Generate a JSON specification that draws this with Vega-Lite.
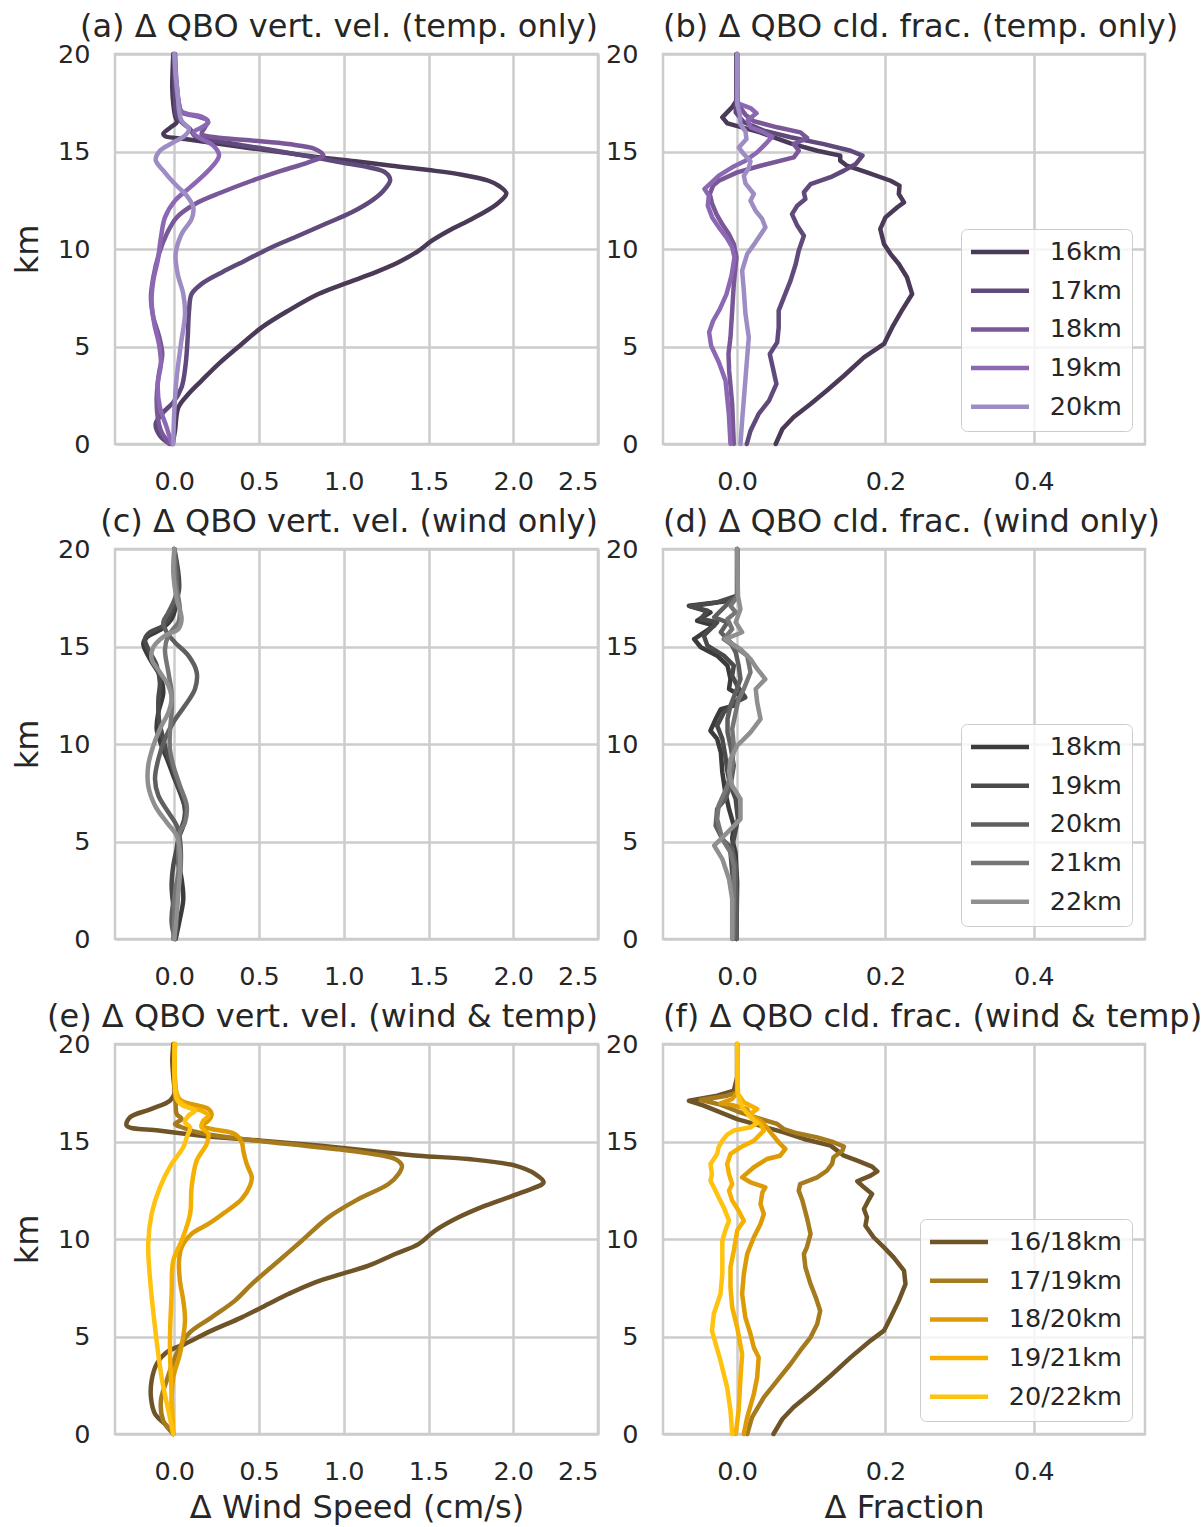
{
"$schema":"https://vega.github.io/schema/vega-lite/v6.json",
"padding":{"left":10,"top":9,"right":5,"bottom":2},
"background":"white",
"config":{
 "font":"DejaVu Sans",
 "view":{"stroke":"#cccccc","strokeWidth":2.5},
 "axis":{"grid":true,"gridColor":"#cccccc","gridWidth":2.5,"domain":false,"ticks":false,"labelFontSize":25.5,"labelColor":"#262626","labelPadding":25,"titleFontSize":32,"titleFontWeight":"normal","titleColor":"#262626","labelFont":"DejaVu Sans","titleFont":"DejaVu Sans"},
 "axisX":{"titlePadding":8},
 "axisY":{"titlePadding":13},
 "title":{"fontSize":32,"fontWeight":"normal","color":"#262626","offset":-1.5,"font":"DejaVu Sans","frame":"group"},
 "legend":{"orient":"bottom-right","offset":13,"labelFontSize":25.5,"labelColor":"#262626","labelFont":"DejaVu Sans","symbolType":"M-1.238,0H4.286","symbolSize":441,"symbolStrokeWidth":4.5,"symbolOffset":0,"padding":10,"rowPadding":11.7,"labelOffset":52.7,"strokeColor":"#cccccc","fillColor":"rgba(255,255,255,0.8)","cornerRadius":6}
},
"datasets":{
"a":[
{"k":"16km","x":-0.01,"y":0},{"k":"16km","x":0.004,"y":0.68},{"k":"16km","x":0.024,"y":1.88},{"k":"16km","x":0.083,"y":2.56},{"k":"16km","x":0.161,"y":3.25},{"k":"16km","x":0.26,"y":4.1},{"k":"16km","x":0.398,"y":5.13},{"k":"16km","x":0.516,"y":5.98},{"k":"16km","x":0.673,"y":6.84},{"k":"16km","x":0.85,"y":7.69},{"k":"16km","x":1.028,"y":8.29},{"k":"16km","x":1.185,"y":8.8},{"k":"16km","x":1.323,"y":9.32},{"k":"16km","x":1.441,"y":9.91},{"k":"16km","x":1.52,"y":10.43},{"k":"16km","x":1.638,"y":11.03},{"k":"16km","x":1.756,"y":11.54},{"k":"16km","x":1.904,"y":12.31},{"k":"16km","x":1.959,"y":12.85},{"k":"16km","x":1.913,"y":13.25},{"k":"16km","x":1.854,"y":13.5},{"k":"16km","x":1.697,"y":13.81},{"k":"16km","x":1.5,"y":14.05},{"k":"16km","x":1.283,"y":14.27},{"k":"16km","x":1.067,"y":14.5},{"k":"16km","x":0.85,"y":14.7},{"k":"16km","x":0.634,"y":14.96},{"k":"16km","x":0.417,"y":15.21},{"k":"16km","x":0.22,"y":15.45},{"k":"16km","x":0.063,"y":15.64},{"k":"16km","x":-0.055,"y":15.79},{"k":"16km","x":-0.065,"y":15.9},{"k":"16km","x":-0.026,"y":16.21},{"k":"16km","x":0.014,"y":16.5},{"k":"16km","x":0.004,"y":16.84},{"k":"16km","x":-0.006,"y":17.44},{"k":"16km","x":-0.012,"y":18.29},{"k":"16km","x":-0.01,"y":19.15},{"k":"16km","x":-0.006,"y":20},
{"k":"17km","x":-0.026,"y":0},{"k":"17km","x":-0.085,"y":0.43},{"k":"17km","x":-0.11,"y":1.03},{"k":"17km","x":-0.065,"y":1.62},{"k":"17km","x":-0.006,"y":2.14},{"k":"17km","x":0.043,"y":2.91},{"k":"17km","x":0.067,"y":4.1},{"k":"17km","x":0.079,"y":5.47},{"k":"17km","x":0.087,"y":6.84},{"k":"17km","x":0.102,"y":7.69},{"k":"17km","x":0.161,"y":8.21},{"k":"17km","x":0.28,"y":8.8},{"k":"17km","x":0.417,"y":9.4},{"k":"17km","x":0.575,"y":10.09},{"k":"17km","x":0.732,"y":10.68},{"k":"17km","x":0.89,"y":11.28},{"k":"17km","x":1.047,"y":11.88},{"k":"17km","x":1.165,"y":12.48},{"k":"17km","x":1.234,"y":12.99},{"k":"17km","x":1.274,"y":13.54},{"k":"17km","x":1.244,"y":13.93},{"k":"17km","x":1.146,"y":14.19},{"k":"17km","x":0.988,"y":14.44},{"k":"17km","x":0.85,"y":14.66},{"k":"17km","x":0.634,"y":14.99},{"k":"17km","x":0.417,"y":15.3},{"k":"17km","x":0.22,"y":15.59},{"k":"17km","x":0.122,"y":15.79},{"k":"17km","x":0.093,"y":16.15},{"k":"17km","x":0.043,"y":16.5},{"k":"17km","x":0.014,"y":16.84},{"k":"17km","x":0.004,"y":17.78},{"k":"17km","x":0,"y":19.15},{"k":"17km","x":0,"y":20},
{"k":"18km","x":-0.035,"y":0.09},{"k":"18km","x":-0.075,"y":0.6},{"k":"18km","x":-0.098,"y":1.37},{"k":"18km","x":-0.104,"y":2.39},{"k":"18km","x":-0.091,"y":3.59},{"k":"18km","x":-0.071,"y":4.62},{"k":"18km","x":-0.091,"y":5.56},{"k":"18km","x":-0.124,"y":6.5},{"k":"18km","x":-0.138,"y":7.52},{"k":"18km","x":-0.124,"y":8.55},{"k":"18km","x":-0.091,"y":9.74},{"k":"18km","x":-0.045,"y":10.77},{"k":"18km","x":0.014,"y":11.62},{"k":"18km","x":0.122,"y":12.31},{"k":"18km","x":0.28,"y":12.91},{"k":"18km","x":0.457,"y":13.5},{"k":"18km","x":0.634,"y":14.02},{"k":"18km","x":0.791,"y":14.44},{"k":"18km","x":0.88,"y":14.79},{"k":"18km","x":0.83,"y":15.13},{"k":"18km","x":0.673,"y":15.38},{"k":"18km","x":0.457,"y":15.56},{"k":"18km","x":0.24,"y":15.73},{"k":"18km","x":0.161,"y":15.9},{"k":"18km","x":0.181,"y":16.24},{"k":"18km","x":0.197,"y":16.58},{"k":"18km","x":0.142,"y":16.79},{"k":"18km","x":0.043,"y":17.01},{"k":"18km","x":0.028,"y":17.44},{"k":"18km","x":0.014,"y":18.46},{"k":"18km","x":0.004,"y":20},
{"k":"19km","x":-0.016,"y":0},{"k":"19km","x":-0.045,"y":0.85},{"k":"19km","x":-0.085,"y":1.88},{"k":"19km","x":-0.098,"y":3.08},{"k":"19km","x":-0.079,"y":4.1},{"k":"19km","x":-0.091,"y":5.13},{"k":"19km","x":-0.118,"y":6.15},{"k":"19km","x":-0.134,"y":7.35},{"k":"19km","x":-0.124,"y":8.38},{"k":"19km","x":-0.098,"y":9.4},{"k":"19km","x":-0.079,"y":10.6},{"k":"19km","x":-0.055,"y":11.62},{"k":"19km","x":0.004,"y":12.48},{"k":"19km","x":0.093,"y":13.16},{"k":"19km","x":0.201,"y":14.02},{"k":"19km","x":0.264,"y":14.79},{"k":"19km","x":0.23,"y":15.3},{"k":"19km","x":0.142,"y":15.73},{"k":"19km","x":0.112,"y":15.98},{"k":"19km","x":0.161,"y":16.24},{"k":"19km","x":0.201,"y":16.5},{"k":"19km","x":0.171,"y":16.75},{"k":"19km","x":0.043,"y":17.06},{"k":"19km","x":0.024,"y":17.61},{"k":"19km","x":0.008,"y":18.8},{"k":"19km","x":0.004,"y":20},
{"k":"20km","x":-0.006,"y":0},{"k":"20km","x":0,"y":1.71},{"k":"20km","x":0.014,"y":3.42},{"k":"20km","x":0.039,"y":5.13},{"k":"20km","x":0.063,"y":6.67},{"k":"20km","x":0.053,"y":7.69},{"k":"20km","x":0.02,"y":8.72},{"k":"20km","x":0.008,"y":9.74},{"k":"20km","x":0.043,"y":10.77},{"k":"20km","x":0.102,"y":11.54},{"k":"20km","x":0.112,"y":12.14},{"k":"20km","x":0.073,"y":12.74},{"k":"20km","x":0.004,"y":13.33},{"k":"20km","x":-0.065,"y":14.02},{"k":"20km","x":-0.11,"y":14.56},{"k":"20km","x":-0.085,"y":15.04},{"k":"20km","x":-0.016,"y":15.42},{"k":"20km","x":0.063,"y":15.81},{"k":"20km","x":0.087,"y":16.15},{"k":"20km","x":0.043,"y":16.58},{"k":"20km","x":0.028,"y":17.09},{"k":"20km","x":0.02,"y":17.95},{"k":"20km","x":0.008,"y":18.97},{"k":"20km","x":0,"y":20}
],
"b":[
{"k":"16km","x":0.052,"y":0},{"k":"16km","x":0.061,"y":0.77},{"k":"16km","x":0.076,"y":1.37},{"k":"16km","x":0.099,"y":2.05},{"k":"16km","x":0.121,"y":2.74},{"k":"16km","x":0.144,"y":3.5},{"k":"16km","x":0.171,"y":4.44},{"k":"16km","x":0.198,"y":5.13},{"k":"16km","x":0.209,"y":5.98},{"k":"16km","x":0.222,"y":6.84},{"k":"16km","x":0.236,"y":7.69},{"k":"16km","x":0.229,"y":8.55},{"k":"16km","x":0.218,"y":9.23},{"k":"16km","x":0.207,"y":9.74},{"k":"16km","x":0.198,"y":10.26},{"k":"16km","x":0.193,"y":11.03},{"k":"16km","x":0.2,"y":11.62},{"k":"16km","x":0.216,"y":12.14},{"k":"16km","x":0.225,"y":12.39},{"k":"16km","x":0.218,"y":12.82},{"k":"16km","x":0.219,"y":13.25},{"k":"16km","x":0.207,"y":13.5},{"k":"16km","x":0.175,"y":13.93},{"k":"16km","x":0.148,"y":14.27},{"k":"16km","x":0.139,"y":14.53},{"k":"16km","x":0.139,"y":14.79},{"k":"16km","x":0.108,"y":15.04},{"k":"16km","x":0.072,"y":15.42},{"k":"16km","x":0.031,"y":15.98},{"k":"16km","x":-0.013,"y":16.44},{"k":"16km","x":-0.02,"y":16.75},{"k":"16km","x":-0.007,"y":17.26},{"k":"16km","x":-0.001,"y":17.61},{"k":"16km","x":-0.001,"y":20},
{"k":"17km","x":0.013,"y":0},{"k":"17km","x":0.018,"y":0.68},{"k":"17km","x":0.029,"y":1.54},{"k":"17km","x":0.043,"y":2.22},{"k":"17km","x":0.053,"y":3.08},{"k":"17km","x":0.047,"y":4.1},{"k":"17km","x":0.044,"y":4.62},{"k":"17km","x":0.054,"y":5.21},{"k":"17km","x":0.056,"y":5.98},{"k":"17km","x":0.056,"y":6.84},{"k":"17km","x":0.063,"y":7.52},{"k":"17km","x":0.072,"y":8.38},{"k":"17km","x":0.079,"y":9.23},{"k":"17km","x":0.083,"y":9.91},{"k":"17km","x":0.09,"y":10.68},{"k":"17km","x":0.081,"y":11.2},{"k":"17km","x":0.074,"y":11.79},{"k":"17km","x":0.081,"y":12.22},{"k":"17km","x":0.092,"y":12.56},{"k":"17km","x":0.09,"y":12.91},{"k":"17km","x":0.099,"y":13.33},{"k":"17km","x":0.126,"y":13.68},{"k":"17km","x":0.144,"y":14.02},{"k":"17km","x":0.16,"y":14.36},{"k":"17km","x":0.169,"y":14.79},{"k":"17km","x":0.153,"y":15.04},{"k":"17km","x":0.117,"y":15.38},{"k":"17km","x":0.072,"y":15.73},{"k":"17km","x":0.036,"y":16.07},{"k":"17km","x":0.009,"y":16.5},{"k":"17km","x":-0.002,"y":17.01},{"k":"17km","x":-0.001,"y":17.78},{"k":"17km","x":0,"y":20},
{"k":"18km","x":-0.0045,"y":0},{"k":"18km","x":-0.0067,"y":2.05},{"k":"18km","x":-0.0108,"y":3.76},{"k":"18km","x":-0.0117,"y":4.62},{"k":"18km","x":-0.009,"y":5.47},{"k":"18km","x":-0.0067,"y":6.84},{"k":"18km","x":-0.0045,"y":8.21},{"k":"18km","x":-0.0009,"y":9.57},{"k":"18km","x":-0.0045,"y":10.26},{"k":"18km","x":-0.0112,"y":10.77},{"k":"18km","x":-0.0202,"y":11.28},{"k":"18km","x":-0.0279,"y":11.79},{"k":"18km","x":-0.0337,"y":12.31},{"k":"18km","x":-0.0369,"y":12.82},{"k":"18km","x":-0.0324,"y":13.25},{"k":"18km","x":-0.0247,"y":13.5},{"k":"18km","x":0,"y":13.93},{"k":"18km","x":0.0315,"y":14.27},{"k":"18km","x":0.0764,"y":14.7},{"k":"18km","x":0.0831,"y":15.04},{"k":"18km","x":0.0764,"y":15.38},{"k":"18km","x":0.0944,"y":15.69},{"k":"18km","x":0.0854,"y":15.98},{"k":"18km","x":0.0539,"y":16.24},{"k":"18km","x":0.0225,"y":16.55},{"k":"18km","x":0.0112,"y":16.89},{"k":"18km","x":0.0022,"y":17.35},{"k":"18km","x":0,"y":17.78},{"k":"18km","x":0,"y":20},
{"k":"19km","x":-0.009,"y":0},{"k":"19km","x":-0.0112,"y":1.54},{"k":"19km","x":-0.0157,"y":3.25},{"k":"19km","x":-0.0247,"y":4.19},{"k":"19km","x":-0.0351,"y":5.04},{"k":"19km","x":-0.0378,"y":5.73},{"k":"19km","x":-0.0324,"y":6.32},{"k":"19km","x":-0.0234,"y":6.92},{"k":"19km","x":-0.0144,"y":7.69},{"k":"19km","x":-0.0076,"y":8.63},{"k":"19km","x":-0.0036,"y":9.57},{"k":"19km","x":-0.0067,"y":10.09},{"k":"19km","x":-0.0144,"y":10.6},{"k":"19km","x":-0.0247,"y":11.11},{"k":"19km","x":-0.0337,"y":11.62},{"k":"19km","x":-0.0396,"y":12.22},{"k":"19km","x":-0.0382,"y":12.74},{"k":"19km","x":-0.044,"y":13.08},{"k":"19km","x":-0.0369,"y":13.33},{"k":"19km","x":-0.0247,"y":13.76},{"k":"19km","x":-0.0067,"y":14.19},{"k":"19km","x":0.0112,"y":14.53},{"k":"19km","x":0.027,"y":14.96},{"k":"19km","x":0.0404,"y":15.47},{"k":"19km","x":0.0472,"y":15.76},{"k":"19km","x":0.036,"y":15.98},{"k":"19km","x":0.018,"y":16.24},{"k":"19km","x":0.0144,"y":16.62},{"k":"19km","x":0.0261,"y":16.96},{"k":"19km","x":0.018,"y":17.23},{"k":"19km","x":0.0009,"y":17.47},{"k":"19km","x":0,"y":20},
{"k":"20km","x":0.0045,"y":0},{"k":"20km","x":0.0067,"y":1.2},{"k":"20km","x":0.0103,"y":2.91},{"k":"20km","x":0.0135,"y":4.44},{"k":"20km","x":0.0157,"y":5.47},{"k":"20km","x":0.0112,"y":6.67},{"k":"20km","x":0.009,"y":7.86},{"k":"20km","x":0.0067,"y":8.89},{"k":"20km","x":0.0135,"y":9.74},{"k":"20km","x":0.0247,"y":10.34},{"k":"20km","x":0.0382,"y":11.11},{"k":"20km","x":0.0337,"y":11.54},{"k":"20km","x":0.0247,"y":11.97},{"k":"20km","x":0.018,"y":12.48},{"k":"20km","x":0.0225,"y":12.82},{"k":"20km","x":0.0171,"y":13.08},{"k":"20km","x":0.0112,"y":13.37},{"k":"20km","x":0.009,"y":13.76},{"k":"20km","x":0.0157,"y":14.15},{"k":"20km","x":0.018,"y":14.5},{"k":"20km","x":0.009,"y":14.87},{"k":"20km","x":0.0022,"y":15.21},{"k":"20km","x":0.0126,"y":15.64},{"k":"20km","x":0.0112,"y":16.03},{"k":"20km","x":0.0045,"y":16.38},{"k":"20km","x":0.0036,"y":16.92},{"k":"20km","x":0,"y":17.44},{"k":"20km","x":0,"y":20}
],
"c":[
{"k":"18km","x":0.008,"y":0},{"k":"18km","x":0.033,"y":1.03},{"k":"18km","x":0.053,"y":2.05},{"k":"18km","x":0.043,"y":3.08},{"k":"18km","x":0.02,"y":4.1},{"k":"18km","x":0.024,"y":5.13},{"k":"18km","x":0.053,"y":5.81},{"k":"18km","x":0.063,"y":6.67},{"k":"18km","x":0.033,"y":7.52},{"k":"18km","x":-0.006,"y":8.38},{"k":"18km","x":-0.035,"y":9.06},{"k":"18km","x":-0.075,"y":9.91},{"k":"18km","x":-0.104,"y":10.77},{"k":"18km","x":-0.094,"y":11.62},{"k":"18km","x":-0.065,"y":12.65},{"k":"18km","x":-0.085,"y":13.5},{"k":"18km","x":-0.144,"y":14.36},{"k":"18km","x":-0.183,"y":15.13},{"k":"18km","x":-0.163,"y":15.47},{"k":"18km","x":-0.075,"y":15.9},{"k":"18km","x":-0.016,"y":16.41},{"k":"18km","x":0.014,"y":17.44},{"k":"18km","x":0,"y":20},
{"k":"19km","x":0.004,"y":0},{"k":"19km","x":0.014,"y":0.68},{"k":"19km","x":-0.006,"y":1.71},{"k":"19km","x":-0.016,"y":2.74},{"k":"19km","x":-0.006,"y":3.76},{"k":"19km","x":0.014,"y":4.62},{"k":"19km","x":0.033,"y":5.47},{"k":"19km","x":0.063,"y":6.32},{"k":"19km","x":0.053,"y":7.18},{"k":"19km","x":0.014,"y":8.03},{"k":"19km","x":-0.016,"y":8.89},{"k":"19km","x":-0.045,"y":9.57},{"k":"19km","x":-0.065,"y":10.26},{"k":"19km","x":-0.091,"y":11.28},{"k":"19km","x":-0.094,"y":12.31},{"k":"19km","x":-0.085,"y":13.16},{"k":"19km","x":-0.104,"y":14.02},{"k":"19km","x":-0.154,"y":14.87},{"k":"19km","x":-0.173,"y":15.38},{"k":"19km","x":-0.144,"y":15.73},{"k":"19km","x":-0.065,"y":16.07},{"k":"19km","x":-0.016,"y":16.75},{"k":"19km","x":0.028,"y":17.95},{"k":"19km","x":0,"y":20},
{"k":"20km","x":0.004,"y":0},{"k":"20km","x":-0.016,"y":0.85},{"k":"20km","x":-0.006,"y":1.88},{"k":"20km","x":0.028,"y":2.91},{"k":"20km","x":0.039,"y":4.1},{"k":"20km","x":0.033,"y":5.13},{"k":"20km","x":0.014,"y":5.81},{"k":"20km","x":-0.035,"y":6.5},{"k":"20km","x":-0.094,"y":7.35},{"k":"20km","x":-0.114,"y":8.21},{"k":"20km","x":-0.094,"y":9.23},{"k":"20km","x":-0.055,"y":10.26},{"k":"20km","x":-0.006,"y":11.11},{"k":"20km","x":0.063,"y":11.97},{"k":"20km","x":0.122,"y":12.82},{"k":"20km","x":0.132,"y":13.68},{"k":"20km","x":0.083,"y":14.53},{"k":"20km","x":0.004,"y":15.21},{"k":"20km","x":-0.045,"y":15.73},{"k":"20km","x":-0.065,"y":16.24},{"k":"20km","x":-0.035,"y":16.75},{"k":"20km","x":0.014,"y":17.78},{"k":"20km","x":0,"y":20},
{"k":"21km","x":-0.006,"y":0},{"k":"21km","x":0,"y":1.2},{"k":"21km","x":0.004,"y":2.39},{"k":"21km","x":0.024,"y":3.42},{"k":"21km","x":0.024,"y":4.62},{"k":"21km","x":0.033,"y":5.47},{"k":"21km","x":0.063,"y":5.98},{"k":"21km","x":0.073,"y":6.84},{"k":"21km","x":0.033,"y":7.86},{"k":"21km","x":-0.006,"y":8.89},{"k":"21km","x":-0.026,"y":9.74},{"k":"21km","x":-0.026,"y":10.6},{"k":"21km","x":-0.016,"y":11.62},{"k":"21km","x":-0.016,"y":12.65},{"k":"21km","x":-0.035,"y":13.68},{"k":"21km","x":-0.055,"y":14.87},{"k":"21km","x":-0.035,"y":15.56},{"k":"21km","x":-0.006,"y":15.9},{"k":"21km","x":0.024,"y":16.24},{"k":"21km","x":0.033,"y":16.92},{"k":"21km","x":0.008,"y":18.29},{"k":"21km","x":0,"y":20},
{"k":"22km","x":0,"y":0},{"k":"22km","x":0.014,"y":1.2},{"k":"22km","x":0.024,"y":2.39},{"k":"22km","x":0.033,"y":3.42},{"k":"22km","x":0.033,"y":4.44},{"k":"22km","x":0.014,"y":5.3},{"k":"22km","x":-0.045,"y":5.98},{"k":"22km","x":-0.114,"y":6.84},{"k":"22km","x":-0.154,"y":7.86},{"k":"22km","x":-0.154,"y":8.89},{"k":"22km","x":-0.124,"y":9.91},{"k":"22km","x":-0.085,"y":10.77},{"k":"22km","x":-0.035,"y":11.62},{"k":"22km","x":-0.016,"y":12.31},{"k":"22km","x":-0.035,"y":12.99},{"k":"22km","x":-0.085,"y":13.68},{"k":"22km","x":-0.134,"y":14.36},{"k":"22km","x":-0.124,"y":14.96},{"k":"22km","x":-0.055,"y":15.56},{"k":"22km","x":0.024,"y":15.9},{"k":"22km","x":0.043,"y":16.41},{"k":"22km","x":0.014,"y":17.44},{"k":"22km","x":-0.006,"y":18.8},{"k":"22km","x":0,"y":20}
],
"d":[
{"k":"18km","x":-0.001,"y":0},{"k":"18km","x":0,"y":2.91},{"k":"18km","x":-0.0022,"y":4.44},{"k":"18km","x":-0.0067,"y":5.13},{"k":"18km","x":-0.0045,"y":5.81},{"k":"18km","x":-0.011,"y":6.67},{"k":"18km","x":-0.016,"y":7.52},{"k":"18km","x":-0.02,"y":8.55},{"k":"18km","x":-0.022,"y":9.57},{"k":"18km","x":-0.027,"y":10.26},{"k":"18km","x":-0.036,"y":10.68},{"k":"18km","x":-0.029,"y":11.28},{"k":"18km","x":-0.022,"y":11.79},{"k":"18km","x":-0.0045,"y":11.97},{"k":"18km","x":0.0045,"y":12.48},{"k":"18km","x":-0.011,"y":12.82},{"k":"18km","x":-0.009,"y":13.33},{"k":"18km","x":-0.013,"y":14.02},{"k":"18km","x":-0.027,"y":14.53},{"k":"18km","x":-0.049,"y":14.96},{"k":"18km","x":-0.058,"y":15.38},{"k":"18km","x":-0.031,"y":16.07},{"k":"18km","x":-0.054,"y":16.32},{"k":"18km","x":-0.036,"y":16.75},{"k":"18km","x":-0.065,"y":17.09},{"k":"18km","x":-0.009,"y":17.35},{"k":"18km","x":0,"y":17.61},{"k":"18km","x":0,"y":20},
{"k":"19km","x":-0.001,"y":0},{"k":"19km","x":-0.002,"y":2.05},{"k":"19km","x":-0.0067,"y":3.42},{"k":"19km","x":-0.009,"y":4.44},{"k":"19km","x":-0.0045,"y":5.13},{"k":"19km","x":0.001,"y":6.15},{"k":"19km","x":-0.002,"y":7.18},{"k":"19km","x":-0.009,"y":7.86},{"k":"19km","x":-0.013,"y":8.55},{"k":"19km","x":-0.016,"y":9.4},{"k":"19km","x":-0.02,"y":10.26},{"k":"19km","x":-0.027,"y":10.94},{"k":"19km","x":-0.018,"y":11.62},{"k":"19km","x":-0.002,"y":12.14},{"k":"19km","x":0.011,"y":12.39},{"k":"19km","x":0,"y":12.99},{"k":"19km","x":-0.0067,"y":13.5},{"k":"19km","x":-0.0045,"y":14.02},{"k":"19km","x":-0.018,"y":14.53},{"k":"19km","x":-0.04,"y":15.04},{"k":"19km","x":-0.045,"y":15.56},{"k":"19km","x":-0.027,"y":16.24},{"k":"19km","x":-0.049,"y":16.41},{"k":"19km","x":-0.04,"y":16.84},{"k":"19km","x":-0.063,"y":17.06},{"k":"19km","x":-0.027,"y":17.26},{"k":"19km","x":0,"y":17.61},{"k":"19km","x":0,"y":20},
{"k":"20km","x":-0.001,"y":0},{"k":"20km","x":-0.001,"y":2.05},{"k":"20km","x":-0.002,"y":3.76},{"k":"20km","x":-0.0067,"y":4.62},{"k":"20km","x":-0.02,"y":5.13},{"k":"20km","x":-0.029,"y":5.81},{"k":"20km","x":-0.027,"y":6.67},{"k":"20km","x":-0.016,"y":7.18},{"k":"20km","x":-0.009,"y":7.86},{"k":"20km","x":-0.0045,"y":8.89},{"k":"20km","x":-0.009,"y":9.91},{"k":"20km","x":-0.013,"y":10.6},{"k":"20km","x":-0.013,"y":11.28},{"k":"20km","x":-0.009,"y":11.97},{"k":"20km","x":-0.002,"y":12.65},{"k":"20km","x":0.0045,"y":13.33},{"k":"20km","x":0.002,"y":14.02},{"k":"20km","x":-0.002,"y":14.7},{"k":"20km","x":-0.009,"y":15.21},{"k":"20km","x":-0.022,"y":15.73},{"k":"20km","x":-0.013,"y":16.24},{"k":"20km","x":-0.031,"y":16.5},{"k":"20km","x":-0.022,"y":16.84},{"k":"20km","x":-0.013,"y":17.18},{"k":"20km","x":0,"y":17.61},{"k":"20km","x":0,"y":20},
{"k":"21km","x":-0.0054,"y":0},{"k":"21km","x":-0.0045,"y":2.05},{"k":"21km","x":-0.0045,"y":3.76},{"k":"21km","x":-0.009,"y":4.44},{"k":"21km","x":-0.02,"y":5.13},{"k":"21km","x":-0.027,"y":6.15},{"k":"21km","x":-0.025,"y":6.84},{"k":"21km","x":-0.013,"y":7.86},{"k":"21km","x":-0.0067,"y":8.89},{"k":"21km","x":-0.0045,"y":9.91},{"k":"21km","x":-0.0067,"y":10.77},{"k":"21km","x":-0.002,"y":11.62},{"k":"21km","x":0.002,"y":12.31},{"k":"21km","x":0.009,"y":12.82},{"k":"21km","x":0.018,"y":13.68},{"k":"21km","x":0.0135,"y":14.53},{"k":"21km","x":-0.002,"y":14.96},{"k":"21km","x":-0.018,"y":15.38},{"k":"21km","x":-0.0067,"y":15.9},{"k":"21km","x":-0.013,"y":16.41},{"k":"21km","x":-0.002,"y":16.75},{"k":"21km","x":-0.009,"y":17.09},{"k":"21km","x":0.001,"y":17.61},{"k":"21km","x":0,"y":20},
{"k":"22km","x":-0.0067,"y":0},{"k":"22km","x":-0.0067,"y":2.05},{"k":"22km","x":-0.011,"y":3.08},{"k":"22km","x":-0.02,"y":4.1},{"k":"22km","x":-0.031,"y":4.79},{"k":"22km","x":-0.013,"y":5.47},{"k":"22km","x":0.0045,"y":6.15},{"k":"22km","x":0.0045,"y":7.18},{"k":"22km","x":-0.0067,"y":7.86},{"k":"22km","x":-0.011,"y":8.55},{"k":"22km","x":-0.009,"y":9.23},{"k":"22km","x":0,"y":9.91},{"k":"22km","x":0.018,"y":10.6},{"k":"22km","x":0.0315,"y":11.28},{"k":"22km","x":0.027,"y":12.14},{"k":"22km","x":0.025,"y":12.82},{"k":"22km","x":0.038,"y":13.33},{"k":"22km","x":0.027,"y":13.85},{"k":"22km","x":0.018,"y":14.36},{"k":"22km","x":0.0045,"y":14.87},{"k":"22km","x":-0.016,"y":15.38},{"k":"22km","x":0.0067,"y":15.73},{"k":"22km","x":-0.002,"y":16.24},{"k":"22km","x":0.0045,"y":16.92},{"k":"22km","x":0.001,"y":17.61},{"k":"22km","x":0,"y":20}
],
"e":[
{"k":"16/18km","x":-0.006,"y":0},{"k":"16/18km","x":-0.055,"y":0.51},{"k":"16/18km","x":-0.114,"y":1.03},{"k":"16/18km","x":-0.138,"y":1.88},{"k":"16/18km","x":-0.134,"y":2.74},{"k":"16/18km","x":-0.104,"y":3.59},{"k":"16/18km","x":-0.045,"y":4.19},{"k":"16/18km","x":0.063,"y":4.62},{"k":"16/18km","x":0.22,"y":5.3},{"k":"16/18km","x":0.398,"y":5.98},{"k":"16/18km","x":0.555,"y":6.67},{"k":"16/18km","x":0.673,"y":7.18},{"k":"16/18km","x":0.831,"y":7.78},{"k":"16/18km","x":0.988,"y":8.21},{"k":"16/18km","x":1.146,"y":8.63},{"k":"16/18km","x":1.303,"y":9.23},{"k":"16/18km","x":1.441,"y":9.74},{"k":"16/18km","x":1.539,"y":10.43},{"k":"16/18km","x":1.677,"y":11.11},{"k":"16/18km","x":1.835,"y":11.71},{"k":"16/18km","x":2.051,"y":12.39},{"k":"16/18km","x":2.179,"y":12.91},{"k":"16/18km","x":2.13,"y":13.33},{"k":"16/18km","x":2.012,"y":13.76},{"k":"16/18km","x":1.736,"y":14.1},{"k":"16/18km","x":1.441,"y":14.27},{"k":"16/18km","x":1.146,"y":14.53},{"k":"16/18km","x":0.85,"y":14.79},{"k":"16/18km","x":0.516,"y":15.04},{"k":"16/18km","x":0.161,"y":15.3},{"k":"16/18km","x":-0.094,"y":15.56},{"k":"16/18km","x":-0.281,"y":15.81},{"k":"16/18km","x":-0.262,"y":16.24},{"k":"16/18km","x":-0.134,"y":16.67},{"k":"16/18km","x":-0.026,"y":17.09},{"k":"16/18km","x":0,"y":17.44},{"k":"16/18km","x":-0.006,"y":18.29},{"k":"16/18km","x":-0.012,"y":19.15},{"k":"16/18km","x":-0.006,"y":20},
{"k":"17/19km","x":-0.006,"y":0},{"k":"17/19km","x":-0.065,"y":0.68},{"k":"17/19km","x":-0.079,"y":1.71},{"k":"17/19km","x":-0.045,"y":2.74},{"k":"17/19km","x":0.004,"y":3.93},{"k":"17/19km","x":0.083,"y":5.13},{"k":"17/19km","x":0.22,"y":5.98},{"k":"17/19km","x":0.358,"y":6.84},{"k":"17/19km","x":0.457,"y":7.69},{"k":"17/19km","x":0.594,"y":8.72},{"k":"17/19km","x":0.752,"y":9.91},{"k":"17/19km","x":0.909,"y":11.11},{"k":"17/19km","x":1.087,"y":12.05},{"k":"17/19km","x":1.264,"y":12.82},{"k":"17/19km","x":1.323,"y":13.33},{"k":"17/19km","x":1.343,"y":13.76},{"k":"17/19km","x":1.303,"y":14.1},{"k":"17/19km","x":1.146,"y":14.39},{"k":"17/19km","x":0.949,"y":14.62},{"k":"17/19km","x":0.673,"y":14.87},{"k":"17/19km","x":0.398,"y":15.13},{"k":"17/19km","x":0.161,"y":15.42},{"k":"17/19km","x":0.043,"y":15.73},{"k":"17/19km","x":0.004,"y":15.9},{"k":"17/19km","x":0.043,"y":16.15},{"k":"17/19km","x":0.014,"y":16.41},{"k":"17/19km","x":0.008,"y":16.92},{"k":"17/19km","x":0,"y":18.29},{"k":"17/19km","x":0,"y":20},
{"k":"18/20km","x":-0.006,"y":0},{"k":"18/20km","x":-0.016,"y":1.2},{"k":"18/20km","x":-0.006,"y":2.91},{"k":"18/20km","x":0.033,"y":4.1},{"k":"18/20km","x":0.063,"y":5.81},{"k":"18/20km","x":0.053,"y":6.84},{"k":"18/20km","x":0.033,"y":7.86},{"k":"18/20km","x":0.028,"y":8.89},{"k":"18/20km","x":0.043,"y":9.57},{"k":"18/20km","x":0.102,"y":10.26},{"k":"18/20km","x":0.201,"y":10.77},{"k":"18/20km","x":0.299,"y":11.37},{"k":"18/20km","x":0.398,"y":12.05},{"k":"18/20km","x":0.447,"y":12.74},{"k":"18/20km","x":0.457,"y":13.16},{"k":"18/20km","x":0.427,"y":13.85},{"k":"18/20km","x":0.407,"y":14.53},{"k":"18/20km","x":0.398,"y":14.96},{"k":"18/20km","x":0.358,"y":15.38},{"k":"18/20km","x":0.22,"y":15.64},{"k":"18/20km","x":0.161,"y":15.81},{"k":"18/20km","x":0.201,"y":16.07},{"k":"18/20km","x":0.22,"y":16.41},{"k":"18/20km","x":0.201,"y":16.67},{"k":"18/20km","x":0.043,"y":17.09},{"k":"18/20km","x":0.014,"y":17.44},{"k":"18/20km","x":0.004,"y":20},
{"k":"19/21km","x":-0.006,"y":0},{"k":"19/21km","x":-0.016,"y":2.05},{"k":"19/21km","x":-0.026,"y":4.62},{"k":"19/21km","x":-0.016,"y":7.18},{"k":"19/21km","x":-0.006,"y":8.89},{"k":"19/21km","x":0.043,"y":9.91},{"k":"19/21km","x":0.093,"y":11.28},{"k":"19/21km","x":0.102,"y":12.65},{"k":"19/21km","x":0.132,"y":14.02},{"k":"19/21km","x":0.191,"y":14.87},{"k":"19/21km","x":0.201,"y":15.38},{"k":"19/21km","x":0.161,"y":15.73},{"k":"19/21km","x":0.171,"y":16.07},{"k":"19/21km","x":0.201,"y":16.32},{"k":"19/21km","x":0.161,"y":16.58},{"k":"19/21km","x":0.083,"y":16.75},{"k":"19/21km","x":0.033,"y":17.09},{"k":"19/21km","x":0.014,"y":17.44},{"k":"19/21km","x":0,"y":20},
{"k":"20/22km","x":-0.006,"y":0},{"k":"20/22km","x":-0.035,"y":1.2},{"k":"20/22km","x":-0.075,"y":2.91},{"k":"20/22km","x":-0.114,"y":5.47},{"k":"20/22km","x":-0.144,"y":8.03},{"k":"20/22km","x":-0.154,"y":9.74},{"k":"20/22km","x":-0.134,"y":11.28},{"k":"20/22km","x":-0.085,"y":12.65},{"k":"20/22km","x":-0.016,"y":13.85},{"k":"20/22km","x":0.053,"y":14.7},{"k":"20/22km","x":0.073,"y":15.21},{"k":"20/22km","x":0.093,"y":15.73},{"k":"20/22km","x":0.063,"y":15.98},{"k":"20/22km","x":0.083,"y":16.32},{"k":"20/22km","x":0.122,"y":16.58},{"k":"20/22km","x":0.043,"y":16.89},{"k":"20/22km","x":0.014,"y":17.18},{"k":"20/22km","x":0.004,"y":20}
],
"f":[
{"k":"16/18km","x":0.049,"y":0},{"k":"16/18km","x":0.061,"y":0.77},{"k":"16/18km","x":0.076,"y":1.37},{"k":"16/18km","x":0.103,"y":2.22},{"k":"16/18km","x":0.126,"y":2.99},{"k":"16/18km","x":0.153,"y":3.93},{"k":"16/18km","x":0.18,"y":4.79},{"k":"16/18km","x":0.198,"y":5.3},{"k":"16/18km","x":0.207,"y":5.98},{"k":"16/18km","x":0.218,"y":6.84},{"k":"16/18km","x":0.227,"y":7.69},{"k":"16/18km","x":0.225,"y":8.38},{"k":"16/18km","x":0.211,"y":9.06},{"k":"16/18km","x":0.198,"y":9.57},{"k":"16/18km","x":0.184,"y":10.09},{"k":"16/18km","x":0.173,"y":10.68},{"k":"16/18km","x":0.175,"y":11.11},{"k":"16/18km","x":0.171,"y":11.54},{"k":"16/18km","x":0.178,"y":12.05},{"k":"16/18km","x":0.182,"y":12.31},{"k":"16/18km","x":0.171,"y":12.65},{"k":"16/18km","x":0.162,"y":12.96},{"k":"16/18km","x":0.18,"y":13.25},{"k":"16/18km","x":0.189,"y":13.47},{"k":"16/18km","x":0.182,"y":13.71},{"k":"16/18km","x":0.162,"y":14.02},{"k":"16/18km","x":0.144,"y":14.27},{"k":"16/18km","x":0.135,"y":14.53},{"k":"16/18km","x":0.126,"y":14.79},{"k":"16/18km","x":0.09,"y":15.13},{"k":"16/18km","x":0.063,"y":15.47},{"k":"16/18km","x":0.031,"y":15.81},{"k":"16/18km","x":0,"y":16.15},{"k":"16/18km","x":-0.045,"y":16.84},{"k":"16/18km","x":-0.065,"y":17.09},{"k":"16/18km","x":-0.027,"y":17.35},{"k":"16/18km","x":-0.0045,"y":17.61},{"k":"16/18km","x":0,"y":18.29},{"k":"16/18km","x":0,"y":20},
{"k":"17/19km","x":0.0135,"y":0},{"k":"17/19km","x":0.02,"y":0.85},{"k":"17/19km","x":0.036,"y":1.88},{"k":"17/19km","x":0.054,"y":2.74},{"k":"17/19km","x":0.072,"y":3.59},{"k":"17/19km","x":0.085,"y":4.27},{"k":"17/19km","x":0.099,"y":4.96},{"k":"17/19km","x":0.108,"y":5.64},{"k":"17/19km","x":0.112,"y":6.32},{"k":"17/19km","x":0.106,"y":7.01},{"k":"17/19km","x":0.099,"y":7.69},{"k":"17/19km","x":0.092,"y":8.55},{"k":"17/19km","x":0.09,"y":9.23},{"k":"17/19km","x":0.094,"y":9.57},{"k":"17/19km","x":0.099,"y":10.26},{"k":"17/19km","x":0.094,"y":11.11},{"k":"17/19km","x":0.088,"y":11.97},{"k":"17/19km","x":0.083,"y":12.48},{"k":"17/19km","x":0.085,"y":12.82},{"k":"17/19km","x":0.108,"y":13.16},{"k":"17/19km","x":0.121,"y":13.5},{"k":"17/19km","x":0.128,"y":13.85},{"k":"17/19km","x":0.13,"y":14.19},{"k":"17/19km","x":0.142,"y":14.53},{"k":"17/19km","x":0.144,"y":14.74},{"k":"17/19km","x":0.13,"y":14.96},{"k":"17/19km","x":0.108,"y":15.21},{"k":"17/19km","x":0.081,"y":15.42},{"k":"17/19km","x":0.063,"y":15.64},{"k":"17/19km","x":0.054,"y":15.9},{"k":"17/19km","x":0.027,"y":16.21},{"k":"17/19km","x":0,"y":16.55},{"k":"17/19km","x":-0.0225,"y":16.89},{"k":"17/19km","x":-0.049,"y":17.13},{"k":"17/19km","x":-0.0135,"y":17.35},{"k":"17/19km","x":0,"y":17.52},{"k":"17/19km","x":0,"y":20},
{"k":"18/20km","x":0.009,"y":0},{"k":"18/20km","x":0.0135,"y":0.85},{"k":"18/20km","x":0.0225,"y":2.05},{"k":"18/20km","x":0.027,"y":2.91},{"k":"18/20km","x":0.029,"y":3.93},{"k":"18/20km","x":0.0225,"y":4.44},{"k":"18/20km","x":0.018,"y":5.13},{"k":"18/20km","x":0.011,"y":5.98},{"k":"18/20km","x":0.0067,"y":7.18},{"k":"18/20km","x":0.009,"y":8.21},{"k":"18/20km","x":0.0135,"y":9.23},{"k":"18/20km","x":0.0225,"y":10.09},{"k":"18/20km","x":0.0315,"y":10.77},{"k":"18/20km","x":0.036,"y":11.28},{"k":"18/20km","x":0.0315,"y":11.79},{"k":"18/20km","x":0.034,"y":12.39},{"k":"18/20km","x":0.038,"y":12.65},{"k":"18/20km","x":0.018,"y":12.91},{"k":"18/20km","x":0.0067,"y":13.16},{"k":"18/20km","x":0.0225,"y":13.68},{"k":"18/20km","x":0.04,"y":14.1},{"k":"18/20km","x":0.058,"y":14.27},{"k":"18/20km","x":0.065,"y":14.62},{"k":"18/20km","x":0.056,"y":14.96},{"k":"18/20km","x":0.047,"y":15.38},{"k":"18/20km","x":0.04,"y":15.73},{"k":"18/20km","x":0.0315,"y":16.07},{"k":"18/20km","x":0.018,"y":16.32},{"k":"18/20km","x":0.0135,"y":16.67},{"k":"18/20km","x":-0.009,"y":16.89},{"k":"18/20km","x":-0.0225,"y":16.96},{"k":"18/20km","x":-0.0067,"y":17.18},{"k":"18/20km","x":0,"y":17.52},{"k":"18/20km","x":0,"y":20},
{"k":"19/21km","x":-0.002,"y":0},{"k":"19/21km","x":0.002,"y":1.2},{"k":"19/21km","x":0.0045,"y":2.91},{"k":"19/21km","x":0.0067,"y":4.1},{"k":"19/21km","x":0,"y":5.47},{"k":"19/21km","x":-0.0067,"y":6.5},{"k":"19/21km","x":-0.009,"y":7.52},{"k":"19/21km","x":-0.009,"y":8.55},{"k":"19/21km","x":-0.0045,"y":9.4},{"k":"19/21km","x":0,"y":10.43},{"k":"19/21km","x":0.009,"y":10.94},{"k":"19/21km","x":0.002,"y":11.45},{"k":"19/21km","x":-0.0067,"y":11.97},{"k":"19/21km","x":-0.011,"y":12.48},{"k":"19/21km","x":-0.0067,"y":12.82},{"k":"19/21km","x":-0.011,"y":13.33},{"k":"19/21km","x":-0.0135,"y":13.85},{"k":"19/21km","x":-0.009,"y":14.36},{"k":"19/21km","x":0.0045,"y":14.7},{"k":"19/21km","x":0.0225,"y":15.04},{"k":"19/21km","x":0.036,"y":15.56},{"k":"19/21km","x":0.0315,"y":15.9},{"k":"19/21km","x":0.0225,"y":16.15},{"k":"19/21km","x":0.018,"y":16.41},{"k":"19/21km","x":0.027,"y":16.67},{"k":"19/21km","x":0.009,"y":17.01},{"k":"19/21km","x":0.001,"y":17.44},{"k":"19/21km","x":0,"y":20},
{"k":"20/22km","x":-0.0067,"y":0},{"k":"20/22km","x":-0.009,"y":1.2},{"k":"20/22km","x":-0.0135,"y":2.39},{"k":"20/22km","x":-0.0225,"y":3.76},{"k":"20/22km","x":-0.034,"y":5.3},{"k":"20/22km","x":-0.0315,"y":6.15},{"k":"20/22km","x":-0.0225,"y":7.18},{"k":"20/22km","x":-0.02,"y":8.21},{"k":"20/22km","x":-0.02,"y":9.23},{"k":"20/22km","x":-0.02,"y":9.91},{"k":"20/22km","x":-0.016,"y":10.43},{"k":"20/22km","x":-0.011,"y":10.94},{"k":"20/22km","x":-0.018,"y":11.62},{"k":"20/22km","x":-0.025,"y":12.14},{"k":"20/22km","x":-0.0315,"y":12.65},{"k":"20/22km","x":-0.036,"y":12.99},{"k":"20/22km","x":-0.034,"y":13.33},{"k":"20/22km","x":-0.036,"y":13.85},{"k":"20/22km","x":-0.027,"y":14.36},{"k":"20/22km","x":-0.025,"y":14.7},{"k":"20/22km","x":-0.02,"y":15.04},{"k":"20/22km","x":-0.0135,"y":15.35},{"k":"20/22km","x":-0.0045,"y":15.56},{"k":"20/22km","x":0.018,"y":15.73},{"k":"20/22km","x":0.027,"y":15.93},{"k":"20/22km","x":0.018,"y":16.24},{"k":"20/22km","x":0.0067,"y":16.75},{"k":"20/22km","x":0.001,"y":17.44},{"k":"20/22km","x":0,"y":20}
]
},
"columns":2,
"spacing":{"row":105,"column":65},
"bounds":"flush",
"resolve":{"scale":{"color":"independent","x":"independent","y":"independent"},"legend":{"color":"independent"}},
"concat":[
{"width":483,"height":390,"title":{"text":"(a) Δ QBO vert. vel. (temp. only)","anchor":"end"},"data":{"name":"a"},
 "mark":{"type":"line","strokeWidth":4.5,"interpolate":"catmull-rom","strokeJoin":"round","strokeCap":"round"},
 "encoding":{"x":{"field":"x","type":"quantitative","scale":{"domain":[-0.35,2.5],"nice":false,"zero":false},"axis":{"values":[0,0.5,1,1.5,2,2.5],"format":".1f","title":null}},
 "y":{"field":"y","type":"quantitative","scale":{"domain":[0,20],"nice":false},"axis":{"values":[0,5,10,15,20],"title":"km"}},
 "color":{"field":"k","type":"nominal","scale":{"domain":["16km","17km","18km","19km","20km"],"range":["#4a3a57","#604a7b","#7a5798","#8c68b4","#9d8dc4"]},"legend":null},
 "order":{"field":"y","type":"quantitative"}}},
{"width":482,"height":390,"title":{"text":"(b) Δ QBO cld. frac. (temp. only)","anchor":"start"},"data":{"name":"b"},
 "mark":{"type":"line","strokeWidth":4.5,"strokeJoin":"round","strokeCap":"round"},
 "encoding":{"x":{"field":"x","type":"quantitative","scale":{"domain":[-0.1,0.55],"nice":false,"zero":false},"axis":{"values":[0,0.2,0.4],"format":".1f","title":null}},
 "y":{"field":"y","type":"quantitative","scale":{"domain":[0,20],"nice":false},"axis":{"values":[0,5,10,15,20],"title":null}},
 "color":{"field":"k","type":"nominal","scale":{"domain":["16km","17km","18km","19km","20km"],"range":["#4a3a57","#604a7b","#7a5798","#8c68b4","#9d8dc4"]},"legend":{"title":null}},
 "order":{"field":"y","type":"quantitative"}}},
{"width":483,"height":390,"title":{"text":"(c) Δ QBO vert. vel. (wind only)","anchor":"end"},"data":{"name":"c"},
 "mark":{"type":"line","strokeWidth":4.5,"interpolate":"catmull-rom","strokeJoin":"round","strokeCap":"round"},
 "encoding":{"x":{"field":"x","type":"quantitative","scale":{"domain":[-0.35,2.5],"nice":false,"zero":false},"axis":{"values":[0,0.5,1,1.5,2,2.5],"format":".1f","title":null}},
 "y":{"field":"y","type":"quantitative","scale":{"domain":[0,20],"nice":false},"axis":{"values":[0,5,10,15,20],"title":"km"}},
 "color":{"field":"k","type":"nominal","scale":{"domain":["18km","19km","20km","21km","22km"],"range":["#3b3b3b","#4b4b4b","#5f5f5f","#767676","#8f8f8f"]},"legend":null},
 "order":{"field":"y","type":"quantitative"}}},
{"width":482,"height":390,"title":{"text":"(d) Δ QBO cld. frac. (wind only)","anchor":"start"},"data":{"name":"d"},
 "mark":{"type":"line","strokeWidth":4.5,"strokeJoin":"round","strokeCap":"round"},
 "encoding":{"x":{"field":"x","type":"quantitative","scale":{"domain":[-0.1,0.55],"nice":false,"zero":false},"axis":{"values":[0,0.2,0.4],"format":".1f","title":null}},
 "y":{"field":"y","type":"quantitative","scale":{"domain":[0,20],"nice":false},"axis":{"values":[0,5,10,15,20],"title":null}},
 "color":{"field":"k","type":"nominal","scale":{"domain":["18km","19km","20km","21km","22km"],"range":["#3b3b3b","#4b4b4b","#5f5f5f","#767676","#8f8f8f"]},"legend":{"title":null}},
 "order":{"field":"y","type":"quantitative"}}},
{"width":483,"height":390,"title":{"text":"(e) Δ QBO vert. vel. (wind & temp)","anchor":"end"},"data":{"name":"e"},
 "mark":{"type":"line","strokeWidth":4.5,"interpolate":"catmull-rom","strokeJoin":"round","strokeCap":"round"},
 "encoding":{"x":{"field":"x","type":"quantitative","scale":{"domain":[-0.35,2.5],"nice":false,"zero":false},"axis":{"values":[0,0.5,1,1.5,2,2.5],"format":".1f","title":"Δ Wind Speed (cm/s)"}},
 "y":{"field":"y","type":"quantitative","scale":{"domain":[0,20],"nice":false},"axis":{"values":[0,5,10,15,20],"title":"km"}},
 "color":{"field":"k","type":"nominal","scale":{"domain":["16/18km","17/19km","18/20km","19/21km","20/22km"],"range":["#6f5428","#a67b1d","#dc9b06","#f5b000","#ffc20e"]},"legend":null},
 "order":{"field":"y","type":"quantitative"}}},
{"width":482,"height":390,"title":{"text":"(f) Δ QBO cld. frac. (wind & temp)","anchor":"start"},"data":{"name":"f"},
 "mark":{"type":"line","strokeWidth":4.5,"strokeJoin":"round","strokeCap":"round"},
 "encoding":{"x":{"field":"x","type":"quantitative","scale":{"domain":[-0.1,0.55],"nice":false,"zero":false},"axis":{"values":[0,0.2,0.4],"format":".1f","title":"Δ Fraction"}},
 "y":{"field":"y","type":"quantitative","scale":{"domain":[0,20],"nice":false},"axis":{"values":[0,5,10,15,20],"title":null}},
 "color":{"field":"k","type":"nominal","scale":{"domain":["16/18km","17/19km","18/20km","19/21km","20/22km"],"range":["#6f5428","#a67b1d","#dc9b06","#f5b000","#ffc20e"]},"legend":{"title":null}},
 "order":{"field":"y","type":"quantitative"}}}
]
}
